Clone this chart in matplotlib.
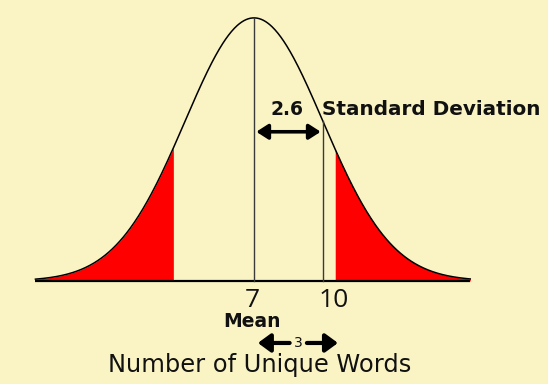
import numpy as np
import matplotlib
matplotlib.use("Agg")
import matplotlib.pyplot as plt

# values
mean = 7
curve_sd = 3.0          # spread of the drawn curve
sd_label = "2.6"
tick_values = [7, 10]
tick_labels = ["7", "10"]
tail_cuts = [3.5, 10.5]   # red tails outside these
x_range = [-2.5, 16.4]

bg = "#FAF4C4"
red = "#FF0000"
ink = "#111111"
font = "DejaVu Sans"
num_font = "Open Sans"

x = np.linspace(x_range[0], x_range[1], 600)
y = np.exp(-0.5 * ((x - mean) / curve_sd) ** 2)

def curve_at(v):
    return np.exp(-0.5 * ((v - mean) / curve_sd) ** 2)

fig = plt.figure(figsize=(5.48, 3.84), dpi=100, facecolor=bg)
ax = fig.add_axes([0, 0, 1, 1])
ax.set_facecolor(bg)
ax.set_xlim(-4.04, 19.78)
ax.set_ylim(-0.392, 1.068)
ax.axis("off")

# tails
ax.fill_between(x, 0, y, where=x <= tail_cuts[0], color=red, lw=0)
ax.fill_between(x, 0, y, where=x >= tail_cuts[1], color=red, lw=0)

ax.plot(x, y, color="black", lw=1.1)
ax.plot(x_range, [0, 0], color="black", lw=1.6, solid_capstyle="butt")

# mean line and 1 sd line
for v in tick_values:
    ax.plot([v, v], [0, curve_at(v)], color="#3a3a3a", lw=1.0)

# sd arrow
ax.annotate("", xy=(mean + 0.1, 0.567), xytext=(tick_values[1] - 0.1, 0.567),
            arrowprops=dict(arrowstyle="<|-|>,head_width=0.45,head_length=0.7",
                            color="black", lw=2.6, shrinkA=0, shrinkB=0))
ax.text(8.43, 0.631, sd_label, ha="center", va="baseline", fontsize=13.5,
        fontweight="bold", family=font, color=ink)
ax.text(9.95, 0.631, "Standard Deviation", ha="left", va="baseline", fontsize=14.4,
        fontweight="bold", family=font, color=ink)

# tick labels
ax.text(6.93, -0.099, tick_labels[0], ha="center", va="baseline", fontsize=19,
        family=num_font, color=ink)
ax.text(10.48, -0.099, tick_labels[1], ha="center", va="baseline", fontsize=19,
        family=num_font, color=ink)
ax.text(6.93, -0.175, "Mean", ha="center", va="baseline", fontsize=13.5,
        fontweight="bold", family=font, color=ink)

# small "3" arrows
ax.annotate("", xy=(7.17, -0.236), xytext=(8.55, -0.236),
            arrowprops=dict(arrowstyle="-|>,head_width=0.55,head_length=0.75",
                            color="black", lw=3.0, shrinkA=0, shrinkB=0))
ax.annotate("", xy=(10.65, -0.236), xytext=(9.3, -0.236),
            arrowprops=dict(arrowstyle="-|>,head_width=0.55,head_length=0.75",
                            color="black", lw=3.0, shrinkA=0, shrinkB=0))
ax.text(8.93, -0.236, "3", ha="center", va="center", fontsize=10,
        family=font, color=ink)

ax.text(7.26, -0.346, "Number of Unique Words", ha="center", va="baseline",
        fontsize=17.4, family=font, color=ink)

fig.savefig("out.png", dpi=100, facecolor=bg)
